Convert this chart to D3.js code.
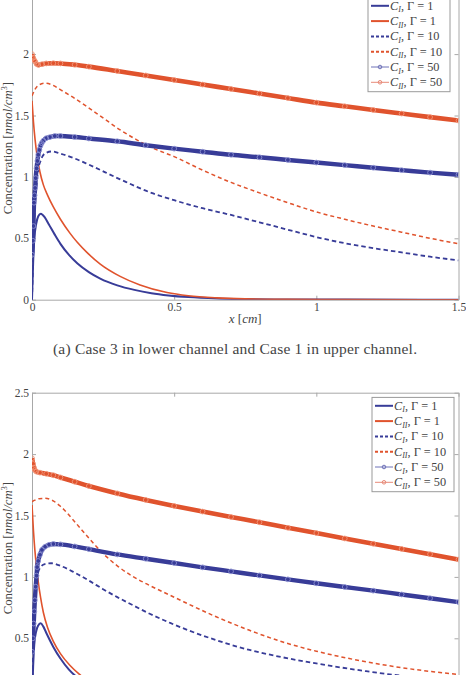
<!DOCTYPE html>
<html>
<head>
<meta charset="utf-8">
<script src="https://cdn.jsdelivr.net/npm/d3@7"></script>
<style>
body { margin: 0; background: #fff; }
svg text { font-family: "Liberation Serif", "DejaVu Serif", serif; fill: #444; }
</style>
</head>
<body>
<svg id="chart" width="466" height="675"></svg>
<script>
// tick values shared by both panels
const xTicks = [0, 0.5, 1, 1.5];
const yTicks = [0, 0.5, 1, 1.5, 2, 2.5];

// legend order: C_I / C_II for Gamma = 1, 10, 50
const seriesKeys = ["CI_1", "CII_1", "CI_10", "CII_10", "CI_50", "CII_50"];
const seriesSub = ["I", "II", "I", "II", "I", "II"];
const seriesGamma = [1, 1, 10, 10, 50, 50];

// ---- panel (a): [x (cm), concentration]
const a_CI_1 = [[0,0],[0.004,0.3],[0.008,0.49],[0.015,0.62],[0.022,0.68],[0.031,0.70],[0.045,0.67],[0.06,0.61],[0.08,0.53],[0.1,0.455],[0.13,0.365],[0.16,0.295],[0.2,0.225],[0.24,0.172],[0.3,0.117],[0.36,0.08],[0.42,0.053],[0.48,0.035],[0.55,0.021],[0.65,0.01],[0.75,0.005],[0.9,0.002],[1.1,0.001],[1.5,0]];
const a_CII_1 = [[0,1.62],[0.005,1.45],[0.011,1.30],[0.018,1.17],[0.028,1.04],[0.04,0.935],[0.055,0.85],[0.075,0.755],[0.1,0.655],[0.134,0.54],[0.16,0.465],[0.193,0.385],[0.24,0.29],[0.31,0.19],[0.38,0.12],[0.475,0.058],[0.55,0.032],[0.65,0.015],[0.75,0.007],[0.9,0.003],[1.1,0.001],[1.5,0]];
const a_CI_10 = [[0,0],[0.003,0.25],[0.006,0.5],[0.01,0.72],[0.015,0.9],[0.022,1.06],[0.03,1.13],[0.045,1.19],[0.069,1.207],[0.1,1.19],[0.15,1.15],[0.2,1.1],[0.31,0.98],[0.42,0.87],[0.5,0.81],[0.6,0.745],[0.7,0.69],[0.8,0.63],[0.9,0.57],[1.0,0.51],[1.1,0.46],[1.2,0.42],[1.3,0.385],[1.4,0.35],[1.5,0.32]];
const a_CII_10 = [[0,1.66],[0.01,1.71],[0.025,1.75],[0.046,1.763],[0.07,1.75],[0.1,1.71],[0.15,1.64],[0.193,1.573],[0.25,1.48],[0.31,1.383],[0.37,1.3],[0.42,1.24],[0.5,1.165],[0.6,1.055],[0.7,0.955],[0.8,0.87],[0.9,0.79],[1.0,0.715],[1.1,0.655],[1.2,0.6],[1.3,0.55],[1.4,0.5],[1.5,0.456]];
const a_CI_50 = [[0,0.366],[0.003,0.48],[0.005,0.6],[0.007,0.79],[0.009,0.85],[0.011,0.91],[0.013,0.99],[0.016,1.07],[0.019,1.13],[0.022,1.18],[0.026,1.22],[0.03,1.255],[0.034,1.275],[0.04,1.295],[0.05,1.315],[0.063,1.324],[0.08,1.333],[0.1,1.333],[0.15,1.325],[0.2,1.313],[0.3,1.29],[0.4,1.258],[0.5,1.23],[0.6,1.205],[0.7,1.18],[0.8,1.16],[0.9,1.138],[1.0,1.117],[1.1,1.096],[1.2,1.075],[1.3,1.055],[1.4,1.035],[1.5,1.017]];
const a_CII_50 = [[0,2.0],[0.004,1.97],[0.008,1.95],[0.011,1.94],[0.016,1.92],[0.022,1.912],[0.035,1.918],[0.05,1.924],[0.075,1.926],[0.1,1.924],[0.15,1.913],[0.2,1.898],[0.3,1.862],[0.4,1.826],[0.5,1.789],[0.6,1.752],[0.7,1.716],[0.8,1.679],[0.9,1.642],[1.0,1.605],[1.1,1.575],[1.2,1.545],[1.3,1.516],[1.4,1.487],[1.5,1.459]];

// ---- panel (b)
const b_CI_1 = [[0,0],[0.004,0.27],[0.008,0.45],[0.015,0.56],[0.022,0.605],[0.03,0.622],[0.04,0.595],[0.05,0.545],[0.075,0.43],[0.1,0.335],[0.13,0.245],[0.16,0.18],[0.2,0.12],[0.25,0.072],[0.3,0.043],[0.4,0.016],[0.5,0.006],[0.7,0.002],[1.0,0],[1.5,0]];
const b_CII_1 = [[0,1.585],[0.005,1.38],[0.01,1.22],[0.016,1.08],[0.022,0.96],[0.03,0.835],[0.04,0.71],[0.055,0.585],[0.075,0.475],[0.1,0.375],[0.133,0.28],[0.165,0.21],[0.2,0.15],[0.25,0.095],[0.3,0.058],[0.4,0.022],[0.5,0.008],[0.7,0.002],[1.0,0],[1.5,0]];
const b_CI_10 = [[0,0],[0.003,0.3],[0.006,0.57],[0.01,0.8],[0.015,0.96],[0.022,1.04],[0.03,1.08],[0.045,1.105],[0.068,1.111],[0.1,1.09],[0.15,1.035],[0.2,0.97],[0.25,0.9],[0.3,0.835],[0.35,0.775],[0.414,0.7],[0.486,0.625],[0.55,0.565],[0.648,0.485],[0.765,0.405],[0.882,0.345],[1.0,0.295],[1.116,0.252],[1.175,0.232],[1.3,0.195],[1.4,0.17],[1.5,0.15]];
const b_CII_10 = [[0,1.612],[0.01,1.625],[0.025,1.637],[0.046,1.64],[0.07,1.625],[0.1,1.575],[0.15,1.45],[0.2,1.315],[0.25,1.19],[0.3,1.09],[0.35,1.01],[0.414,0.93],[0.486,0.85],[0.531,0.8],[0.648,0.675],[0.765,0.565],[0.882,0.47],[1.0,0.395],[1.116,0.335],[1.233,0.285],[1.35,0.245],[1.41,0.228],[1.5,0.205]];
const b_CI_50 = [[0,0.39],[0.003,0.5],[0.006,0.62],[0.008,0.72],[0.01,0.81],[0.013,0.92],[0.016,1.01],[0.018,1.08],[0.022,1.13],[0.028,1.18],[0.035,1.22],[0.046,1.246],[0.06,1.262],[0.075,1.268],[0.1,1.265],[0.15,1.248],[0.2,1.226],[0.3,1.183],[0.4,1.148],[0.5,1.113],[0.6,1.078],[0.7,1.045],[0.8,1.012],[0.9,0.98],[1.0,0.948],[1.1,0.918],[1.2,0.888],[1.3,0.857],[1.4,0.826],[1.5,0.795]];
const b_CII_50 = [[0,1.966],[0.004,1.92],[0.007,1.89],[0.01,1.87],[0.015,1.858],[0.028,1.849],[0.05,1.84],[0.075,1.828],[0.1,1.81],[0.15,1.775],[0.2,1.74],[0.3,1.68],[0.4,1.627],[0.5,1.578],[0.6,1.532],[0.7,1.488],[0.8,1.445],[0.9,1.4],[1.0,1.357],[1.1,1.313],[1.2,1.27],[1.3,1.228],[1.4,1.185],[1.5,1.142]];

const captionA = "(a) Case 3 in lower channel and Case 1 in upper channel.";

// line styles, per series key
const BLUE = "#383c98";
const RED = "#e0532d";
const styles = {
	CI_1:   {color: BLUE, width: 2.0, dash: null, marker: false},
	CII_1:  {color: RED,  width: 1.6, dash: null, marker: false},
	CI_10:  {color: BLUE, width: 1.8, dash: "4.5,3", marker: false},
	CII_10: {color: RED,  width: 1.5, dash: "4,3", marker: false},
	CI_50:  {color: BLUE, width: 4.4, dash: null, marker: true, mk: "#8a8ed0", legend: "#6f72b8"},
	CII_50: {color: RED,  width: 4.6, dash: null, marker: true, mk: "#f0967a", legend: "#e88a78"}
};

const svg = d3.select("#chart");
const VIEW_H = 675;
const left = 32, right = 458.5, plotH = 307;

const x = d3.scaleLinear().domain([0, 1.5]).range([left, right]);

/**
 * draws one subplot with frame, ticks, curves and legend
 */
function drawPanel(id, top, series, legendX, caption) {
	const y = d3.scaleLinear().domain([0, 2.5]).range([top + plotH, top]);
	const g = svg.append("g").attr("id", id);
	const bottom = top + plotH;
	const bottomVisible = bottom + 14 < VIEW_H;

	// clip so curves stay inside the axes box
	g.append("clipPath").attr("id", id + "_clip")
		.append("rect")
		.attr("x", left).attr("y", top)
		.attr("width", right - left).attr("height", plotH);

	// only label the ticks that fall inside the picture
	const fmt = d3.format("~g");
	const yFmt = d => (y(d) > 4 && y(d) < VIEW_H - 5) ? fmt(d) : "";

	// frame + inward ticks on all four sides
	const bottomAxis = g.append("g").attr("transform", `translate(0,${bottom})`)
		.call(d3.axisBottom(x).tickValues(xTicks).tickFormat(bottomVisible ? fmt : "").tickSizeInner(-4).tickSizeOuter(0).tickPadding(3));
	const topAxis = g.append("g").attr("transform", `translate(0,${top})`)
		.call(d3.axisTop(x).tickValues(xTicks).tickFormat("").tickSizeInner(-4).tickSizeOuter(0));
	const leftAxis = g.append("g").attr("transform", `translate(${left},0)`)
		.call(d3.axisLeft(y).tickValues(yTicks).tickFormat(yFmt).tickSizeInner(-4).tickSizeOuter(0).tickPadding(3));
	const rightAxis = g.append("g").attr("transform", `translate(${right},0)`)
		.call(d3.axisRight(y).tickValues(yTicks).tickFormat("").tickSizeInner(-4).tickSizeOuter(0));

	[bottomAxis, topAxis, leftAxis, rightAxis].forEach(function(a) {
		a.select(".domain").attr("stroke", "#a8a8a8").attr("stroke-width", 1);
		a.selectAll(".tick line").attr("stroke", "#a8a8a8");
		a.selectAll(".tick text")
			.style("font-family", "'Liberation Serif', serif")
			.style("font-size", "11.5px")
			.attr("fill", "#444");
	});
	// drop empty labels
	g.selectAll(".tick text").filter(function() { return this.textContent === ""; }).remove();

	// the curves
	const line = d3.line().x(d => x(d[0])).y(d => y(d[1])).curve(d3.curveMonotoneX);
	const plot = g.append("g").attr("clip-path", `url(#${id}_clip)`);

	seriesKeys.forEach(function(k) {
		const st = styles[k];
		const data = series[k];
		plot.append("path")
			.datum(data)
			.attr("d", line)
			.attr("fill", "none")
			.attr("stroke", st.color)
			.attr("stroke-width", st.width)
			.attr("stroke-dasharray", st.dash)
			.attr("stroke-linejoin", "round")
			.attr("stroke-linecap", "butt");
		if (st.marker) {
			plot.selectAll(null)
				.data(data)
				.enter()
				.append("circle")
				.attr("cx", d => x(d[0]))
				.attr("cy", d => y(d[1]))
				.attr("r", 2.4)
				.attr("fill", "none")
				.attr("stroke", st.mk)
				.attr("stroke-width", 0.9);
		}
	});

	// y label
	const yl = g.append("text")
		.attr("transform", `translate(8,${top + plotH / 2 + 2}) rotate(-90)`)
		.attr("text-anchor", "middle")
		.attr("dominant-baseline", "central")
		.style("font-size", "12.8px");
	yl.append("tspan").text("Concentration [");
	yl.append("tspan").style("font-style", "italic").text("nmol/cm");
	yl.append("tspan").attr("dy", -4).style("font-size", "8px").text("3");
	yl.append("tspan").attr("dy", 4).text("]");

	// x label and caption only when they are inside the picture
	if (bottomVisible) {
		const xl = g.append("text")
			.attr("x", (left + right) / 2)
			.attr("y", bottom + 23)
			.attr("text-anchor", "middle")
			.style("font-size", "13px");
		xl.append("tspan").style("font-style", "italic").text("x");
		xl.append("tspan").text(" [");
		xl.append("tspan").style("font-style", "italic").text("cm");
		xl.append("tspan").text("]");
	}

	if (caption) {
		g.append("text")
			.attr("x", 235)
			.attr("y", bottom + 54)
			.attr("text-anchor", "middle")
			.attr("textLength", 364)
			.attr("lengthAdjust", "spacing")
			.style("font-size", "15.5px")
			.attr("fill", "#333")
			.text(caption);
	}

	// legend box
	const rowH = 15.3;
	const lgTop = top + 4.7;
	const lg = g.append("g");
	lg.append("rect")
		.attr("x", legendX).attr("y", lgTop)
		.attr("width", 82).attr("height", rowH * 6 + 2.5)
		.attr("fill", "#fff")
		.attr("stroke", "#9a9a9a")
		.attr("stroke-width", 1);

	seriesKeys.forEach(function(k, i) {
		const st = styles[k];
		const cy = lgTop + 8.4 + i * rowH;
		const x0 = legendX + 3, x1 = legendX + 21;
		lg.append("line")
			.attr("x1", x0).attr("x2", x1)
			.attr("y1", cy).attr("y2", cy)
			.attr("stroke", st.marker ? st.legend : st.color)
			.attr("stroke-width", st.marker ? 1 : 2)
			.attr("stroke-dasharray", st.dash ? "3,2" : null);
		if (st.marker) {
			lg.append("circle")
				.attr("cx", (x0 + x1) / 2).attr("cy", cy)
				.attr("r", 1.8)
				.attr("fill", "none")
				.attr("stroke", st.legend)
				.attr("stroke-width", 1);
		}
		const t = lg.append("text")
			.attr("x", x1 + 1)
			.attr("y", cy + 4)
			.style("font-size", "12.3px")
			.attr("fill", "#333");
		t.append("tspan").style("font-style", "italic").text("C");
		t.append("tspan").attr("dy", 2.5).style("font-style", "italic").style("font-size", "8px").text(seriesSub[i]);
		t.append("tspan").attr("dy", -2.5).text(", \u0393 = " + seriesGamma[i]);
	});
}

drawPanel("panelA", -7.3, {
	CI_1: a_CI_1, CII_1: a_CII_1, CI_10: a_CI_10, CII_10: a_CII_10, CI_50: a_CI_50, CII_50: a_CII_50
}, 368, captionA);

drawPanel("panelB", 392.7, {
	CI_1: b_CI_1, CII_1: b_CII_1, CI_10: b_CI_10, CII_10: b_CII_10, CI_50: b_CI_50, CII_50: b_CII_50
}, 372, null);
</script>
</body>
</html>
